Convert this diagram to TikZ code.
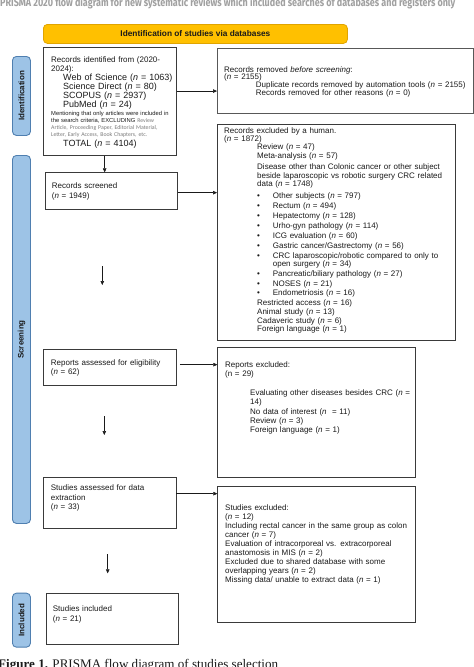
\documentclass[tikz,border=0pt]{standalone}
\usepackage{fontspec}
\setmainfont{Liberation Sans}
\newfontfamily\capfont{Liberation Serif}
\newfontfamily\topfont{Fira Sans}
\newfontfamily\calfont{Carlito}
\usetikzlibrary{arrows.meta}
\definecolor{yel}{HTML}{FFC000}
\definecolor{yelb}{HTML}{E0A400}
\definecolor{barf}{HTML}{9DC3E6}
\definecolor{barb}{HTML}{4F7FB0}
\definecolor{boxc}{HTML}{3A3A3A}
\definecolor{txtc}{HTML}{1A1A1A}
\definecolor{greyt}{HTML}{7A7A7A}
\definecolor{topgrey}{HTML}{A0A0A0}
\lineskiplimit=-20pt
\newcommand{\nn}{\textit{n}}
\newcommand{\bul}{\makebox[15.7pt][l]{\textbullet}}
\newcommand{\fs}[2]{\fontsize{#1}{#2}\selectfont\lineskiplimit=-20pt\relax}
\newcommand{\gry}[1]{{\calfont\color{greyt}#1}}
\begin{document}
\begin{tikzpicture}[x=1pt,y=-1pt,
  box/.style={draw=boxc, line width=0.75pt, anchor=north west, inner sep=0pt},
  bar/.style={draw=barb, fill=barf, line width=0.9pt, rounded corners=4pt, anchor=north west, inner sep=0pt, minimum width=18pt, font=\fs{8}{9}\bfseries, text=txtc},
  txt/.style={anchor=base west, inner sep=0pt, text width=320pt, align=left, text=txtc, font=\fs{8}{9}},
  arr/.style={-{Triangle[length=4pt,width=3.6pt]}, line width=0.55pt, draw=txtc}]
\useasboundingbox (0,0) rectangle (474,667);
\fill[white] (0,0) rectangle (474,667);

% clipped title and caption
\node[anchor=base west, inner sep=0pt, text=topgrey] (toptitle) at (0,6)
  {\resizebox{455pt}{9pt}{\topfont\bfseries PRISMA 2020 flow diagram for new systematic reviews which included searches of databases and registers only}};
\node[anchor=base west, inner sep=0pt, text=txtc] (caption) at (-2,668)
  {\resizebox{280pt}{!}{\capfont\textbf{Figure 1.} PRISMA flow diagram of studies selection}};

% header
\node[draw=yelb, fill=yel, line width=0.8pt, rounded corners=4pt, anchor=north west, inner sep=0pt,
  minimum width=304pt, minimum height=19pt, font=\fs{8.3}{9}\bfseries, text=txtc] (hdr) at (43,24)
  {Identification of studies via databases};

% side bars
\node[bar, minimum height=79pt] (idbar) at (12,56) {\rotatebox{90}{Identification}};
\node[bar, minimum height=368pt] (scbar) at (12,155) {\rotatebox{90}{Screening}};
\node[bar, minimum height=54pt] (inbar) at (12,592.7) {\rotatebox{90}{Included}};

% boxes
\node[box, minimum width=133pt, minimum height=108pt] (ident) at (43,47) {};
\node[box, line width=1.3pt, draw=boxc!85, minimum width=256pt, minimum height=65pt] (removed) at (217,48) {};
\node[box, minimum width=132.3pt, minimum height=37pt] (screened) at (45,172.3) {};
\node[box, minimum width=238pt, minimum height=216pt] (human) at (217,124) {};
\node[box, minimum width=133pt, minimum height=36.3pt] (elig) at (42.7,348.7) {};
\node[box, minimum width=197.7pt, minimum height=129.4pt] (repexcl) at (217.3,347.3) {};
\node[box, minimum width=133pt, minimum height=50.7pt] (assessed) at (42.7,477.3) {};
\node[box, minimum width=197.7pt, minimum height=135.7pt] (studexcl) at (217.3,486) {};
\node[box, minimum width=132.3pt, minimum height=51.3pt] (included) at (46,592.7) {};

% texts: identification
\node[txt] (identA) at (51,62.3) {Records identified from (2020-\\2024):};
\node[txt, font=\fs{9}{9.1}] (identB) at (63,80.3)
  {Web of Science (\nn{} = 1063)\\Science Direct (\nn{} = 80)\\SCOPUS (\nn{} = 2937)\\PubMed (\nn{} = 24)};
\node[txt, font=\fs{5.8}{7.2}] (identC) at (51,115)
  {Mentioning that only articles were included in\\the search criteria, EXCLUDING \gry{Review}\\\gry{Article, Proceeding Paper, Editorial Material,}\\\gry{Letter, Early Access, Book Chapters, etc.}};
\node[txt, font=\fs{9}{9}] (identD) at (63,146.6) {TOTAL (\nn{} = 4104)};

\node[txt, font=\fs{8}{8.3}] (removedT) at (224,72.3)
  {Records removed \textit{before screening}:\\[-1.3pt](\nn{} = 2155)\\\hspace*{31.7pt}Duplicate records removed by automation tools (\nn{} = 2155)\\\hspace*{31.7pt}Records removed for other reasons (\nn{} = 0)};

% screening
\node[txt, font=\fs{8}{10}] (screenedT) at (51.7,188.3) {Records screened\\(\nn{} = 1949)};

\node[txt, font=\fs{8}{7.3}] (humanA) at (224,133.8) {Records excluded by a human.\\(\nn{} = 1872)};
\node[txt, font=\fs{8}{8.7}] (humanB) at (257,149.3)
  {Review (\nn{} = 47)\\Meta-analysis (\nn{} = 57)\\[2.8pt]Disease other than Colonic cancer or other subject\\beside laparoscopic vs robotic surgery CRC related\\data (\nn{} = 1748)};
\node[txt, font=\fs{8}{10}] (humanC) at (257,198.5)
  {\bul Other subjects (\nn{} = 797)\\\bul Rectum (\nn{} = 494)\\\bul Hepatectomy (\nn{} = 128)\\\bul Urho-gyn pathology (\nn{} = 114)\\\bul ICG evaluation (\nn{} = 60)\\\bul Gastric cancer/Gastrectomy (\nn{} = 56)\\\bul CRC laparoscopic/robotic compared to only to\\[-2pt]\hspace*{15.7pt}open surgery (\nn{} = 34)\\\bul Pancreatic/biliary pathology (\nn{} = 27)\\\bul NOSES (\nn{} = 21)\\[-0.8pt]\bul Endometriosis (\nn{} = 16)};
\node[txt, font=\fs{8}{8.7}] (humanD) at (257,305.6)
  {Restricted access (\nn{} = 16)\\Animal study (\nn{} = 13)\\Cadaveric study (\nn{} = 6)\\Foreign language (\nn{} = 1)};

\node[txt, font=\fs{8}{9.6}] (eligT) at (50.7,365) {Reports assessed for eligibility\\(\nn{} = 62)};
\node[txt, font=\fs{8}{9.3}] (repexclA) at (225,367.3) {Reports excluded:\\(n = 29)};
\node[txt, font=\fs{8}{9.2}] (repexclB) at (250,395.6)
  {Evaluating other diseases besides CRC (\nn{} =\\14)\\No data of interest (\nn\ \ = 11)\\Review (\nn{} = 3)\\Foreign language (\nn{} = 1)};

\node[txt, font=\fs{8}{9.5}] (assessedT) at (50.7,490.6) {Studies assessed for data\\extraction\\(\nn{} = 33)};
\node[txt, font=\fs{8}{9}] (studexclT) at (225,510.6)
  {Studies excluded:\\(\nn{} = 12)\\Including rectal cancer in the same group as colon\\cancer (\nn{} = 7)\\Evaluation of intracorporeal vs. extracorporeal\\anastomosis in MIS (\nn{} = 2)\\Excluded due to shared database with some\\overlapping years (\nn{} = 2)\\Missing data/ unable to extract data (\nn{} = 1)};

% included
\node[txt, font=\fs{8}{10}] (includedT) at (52.7,611.6) {Studies included\\(\nn{} = 21)};

% connectors
\draw[arr] ([yshift=10.3pt]ident.east) -- ([yshift=10.3pt]ident.east -| removed.west);
\draw[arr] ([xshift=-5.2pt]ident.south) -- ([xshift=-5.2pt]ident.south |- screened.north);
\draw[arr] ([yshift=-1.5pt]screened.east) -- ([yshift=-1.5pt]screened.east -| human.west);
\draw[arr] ([xshift=3.3pt,yshift=2.55pt]elig.east) -- ([yshift=2.55pt]elig.east -| repexcl.west);
\draw[arr] ([yshift=9.35pt]assessed.east) -- ([yshift=9.35pt]assessed.east -| studexcl.west);

\coordinate (f1a) at (102.3,266); \coordinate (f1b) at (102.3,285);
\coordinate (f2a) at (104.3,416); \coordinate (f2b) at (104.3,435);
\coordinate (f3a) at (107.7,554); \coordinate (f3b) at (107.7,573.3);
\draw[arr] (f1a) -- (f1b);
\draw[arr] (f2a) -- (f2b);
\draw[arr] (f3a) -- (f3b);
\end{tikzpicture}
\end{document}
